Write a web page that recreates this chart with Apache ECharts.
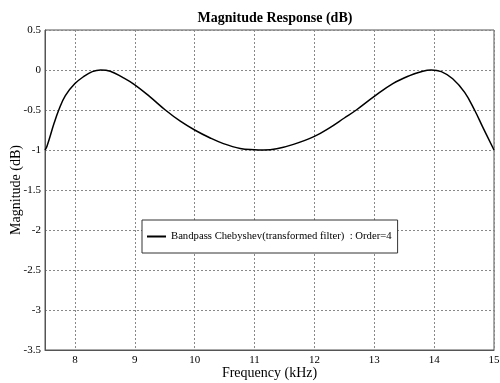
<!DOCTYPE html>
<html>
<head>
<meta charset="utf-8">
<script src="https://cdn.jsdelivr.net/npm/echarts@6/dist/echarts.min.js"></script>
<style>
  html, body { margin: 0; padding: 0; background: #fff; }
  #chart { width: 500px; height: 383px; }
</style>
</head>
<body>
<div id="chart"></div>
<script>
// frequency (kHz) and magnitude (dB)
var freq = [7.5, 7.53, 7.65, 7.73, 7.84, 8.0, 8.15, 8.29, 8.43, 8.59, 8.79, 9.0, 9.26, 9.51, 9.76,
            10.0, 10.26, 10.48, 10.76, 11.0, 11.15, 11.37, 11.65, 12.0, 12.26, 12.5, 12.7, 13.0,
            13.31, 13.59, 13.81, 13.95, 14.12, 14.31, 14.51, 14.675, 14.81, 15.0];
var magDb = [-1.0, -0.96, -0.67, -0.5, -0.32, -0.17, -0.08, -0.02, 0, -0.015, -0.09, -0.185, -0.34, -0.5, -0.64,
             -0.75, -0.85, -0.92, -0.98, -0.997, -1.0, -0.985, -0.93, -0.83, -0.72, -0.6, -0.5, -0.33,
             -0.17, -0.07, -0.015, 0, -0.02, -0.11, -0.28, -0.5, -0.71, -1.0];
var seriesName = 'Bandpass Chebyshev(transformed filter)  : Order=4';

var points = freq.map(function (f, i) { return [f, magDb[i]]; });

var serif = 'Liberation Serif';
var chart = echarts.init(document.getElementById('chart'));

var option = {
  backgroundColor: '#fff',
  animation: false,
  title: {
    text: 'Magnitude Response (dB)',
    left: 270,
    top: 6,
    textAlign: 'center',
    textStyle: { fontFamily: serif, fontSize: 14, fontWeight: 'bold', color: '#000' }
  },
  grid: {
    left: 45, right: 6, top: 30, bottom: 33,
    outerBoundsMode: 'none',
    containLabel: false,
    show: true, borderColor: '#555', borderWidth: 1
  },
  legend: {
    left: 142, top: 220,
    padding: [11, 6, 11, 5],
    borderColor: '#333', borderWidth: 1,
    backgroundColor: '#fff',
    itemWidth: 19, itemHeight: 2,
    itemGap: 6,
    textStyle: { fontFamily: serif, fontSize: 10.7, color: '#000' },
    data: [{ name: seriesName, icon: 'rect' }]
  },
  xAxis: {
    type: 'value',
    min: 7.5, max: 15,
    minInterval: 1, maxInterval: 1,
    name: 'Frequency (kHz)',
    nameLocation: 'middle',
    nameGap: 16,
    nameMoveOverlap: false,
    nameTextStyle: { fontFamily: serif, fontSize: 14, color: '#000' },
    axisLine: { show: true, onZero: false, lineStyle: { color: '#555' } },
    axisTick: { show: false },
    axisLabel: { showMinLabel: false, fontFamily: serif, fontSize: 11, color: '#000', margin: 5 },
    splitLine: { show: true, lineStyle: { color: '#888', type: [2, 2], width: 1 } }
  },
  yAxis: {
    type: 'value',
    min: -3.5, max: 0.5, interval: 0.5,
    name: 'Magnitude (dB)',
    nameLocation: 'middle',
    nameGap: 22,
    nameMoveOverlap: false,
    nameTextStyle: { fontFamily: serif, fontSize: 14, color: '#000' },
    axisLine: { show: true, lineStyle: { color: '#555' } },
    axisTick: { show: false },
    axisLabel: { fontFamily: serif, fontSize: 11, color: '#000', margin: 4 },
    splitLine: { show: true, lineStyle: { color: '#888', type: [2, 2], width: 1 } }
  },
  series: [{
    name: seriesName,
    type: 'line',
    data: points,
    smooth: 0.4,
    showSymbol: false,
    symbol: 'none',
    lineStyle: { color: '#000', width: 1.5 },
    itemStyle: { color: '#000' }
  }]
};

chart.setOption(option);
window.addEventListener('resize', function () { chart.resize(); });
</script>
</body>
</html>
